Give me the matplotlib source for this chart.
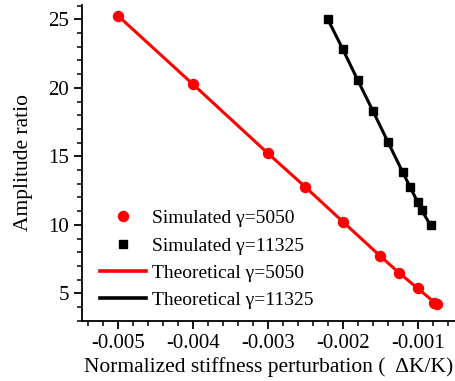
import matplotlib
matplotlib.use("Agg")
import matplotlib.pyplot as plt
from matplotlib.ticker import MultipleLocator

plt.rcParams['font.family'] = ['Liberation Serif', 'DejaVu Serif']

# simulated points, gamma = 5050
sim_x_5050 = [-0.005, -0.004, -0.003, -0.0025, -0.002, -0.0015, -0.00125, -0.001, -0.00078, -0.00075]
sim_y_5050 = [25.26, 20.26, 15.22, 12.76, 10.23, 7.72, 6.50, 5.36, 4.30, 4.22]

# simulated points, gamma = 11325
sim_x_11325 = [-0.0022, -0.002, -0.0018, -0.0016, -0.0014, -0.0012, -0.0011, -0.001, -0.00095, -0.00083]
sim_y_11325 = [25.0, 22.81, 20.55, 18.33, 16.07, 13.83, 12.74, 11.64, 11.08, 9.98]

# theoretical curves
theo_x_5050 = [-0.005, -0.004, -0.003, -0.0025, -0.002, -0.0015, -0.00125, -0.001, -0.00075]
theo_y_5050 = [25.26, 20.26, 15.22, 12.76, 10.23, 7.72, 6.50, 5.36, 4.22]
theo_x_11325 = [-0.0022, -0.002, -0.0018, -0.0016, -0.0014, -0.0012, -0.0011, -0.001, -0.00095, -0.00083]
theo_y_11325 = [25.0, 22.81, 20.55, 18.33, 16.07, 13.83, 12.74, 11.64, 11.08, 9.98]

fig = plt.figure(figsize=(4.56, 3.81), dpi=100)
ax = fig.add_axes([0.18, 0.158, 0.82, 0.829])

ax.plot(theo_x_5050, theo_y_5050, color='red', lw=2.2, zorder=2)
ax.plot(theo_x_11325, theo_y_11325, color='black', lw=2.2, zorder=2)
ax.plot(sim_x_5050, sim_y_5050, 'o', color='red', ms=7.2, zorder=3)
ax.plot(sim_x_11325, sim_y_11325, 's', color='black', ms=5.8, zorder=3)

# legend handles in the original order
h1, = ax.plot([], [], 'o', color='red', ms=7.2)
h2, = ax.plot([], [], 's', color='black', ms=5.8)
h3, = ax.plot([], [], '-', color='red', lw=2.6)
h4, = ax.plot([], [], '-', color='black', lw=2.6)
ax.legend([h1, h2, h3, h4],
          ['Simulated γ=5050', 'Simulated γ=11325',
           'Theoretical γ=5050', 'Theoretical γ=11325'],
          loc='upper left', bbox_to_anchor=(0.048, 0.352), frameon=False,
          fontsize=14, handlelength=2.35, handletextpad=0.33, labelspacing=0.5,
          borderaxespad=0, borderpad=0)

ax.set_xlim(-0.00548, -0.00049)
ax.set_ylim(3, 26.05)
ax.xaxis.set_major_locator(MultipleLocator(0.001))
ax.xaxis.set_minor_locator(MultipleLocator(0.0002))
ax.yaxis.set_major_locator(MultipleLocator(5))
ax.yaxis.set_minor_locator(MultipleLocator(1))
ax.xaxis.set_major_formatter(plt.FuncFormatter(lambda v, p: ('%g' % v)))

for s in ['top', 'right']:
    ax.spines[s].set_visible(False)
for s in ['left', 'bottom']:
    ax.spines[s].set_linewidth(1.3)
ax.tick_params(which='major', direction='out', length=6, width=1.3, labelsize=15)
ax.tick_params(which='minor', direction='out', length=3.5, width=1.1)

ax.set_xlabel('Normalized stiffness perturbation (  ΔK/K)', fontsize=15.5, labelpad=3)
ax.set_ylabel('Amplitude ratio', fontsize=15.5, labelpad=11)

fig.savefig('out.png', dpi=100)
